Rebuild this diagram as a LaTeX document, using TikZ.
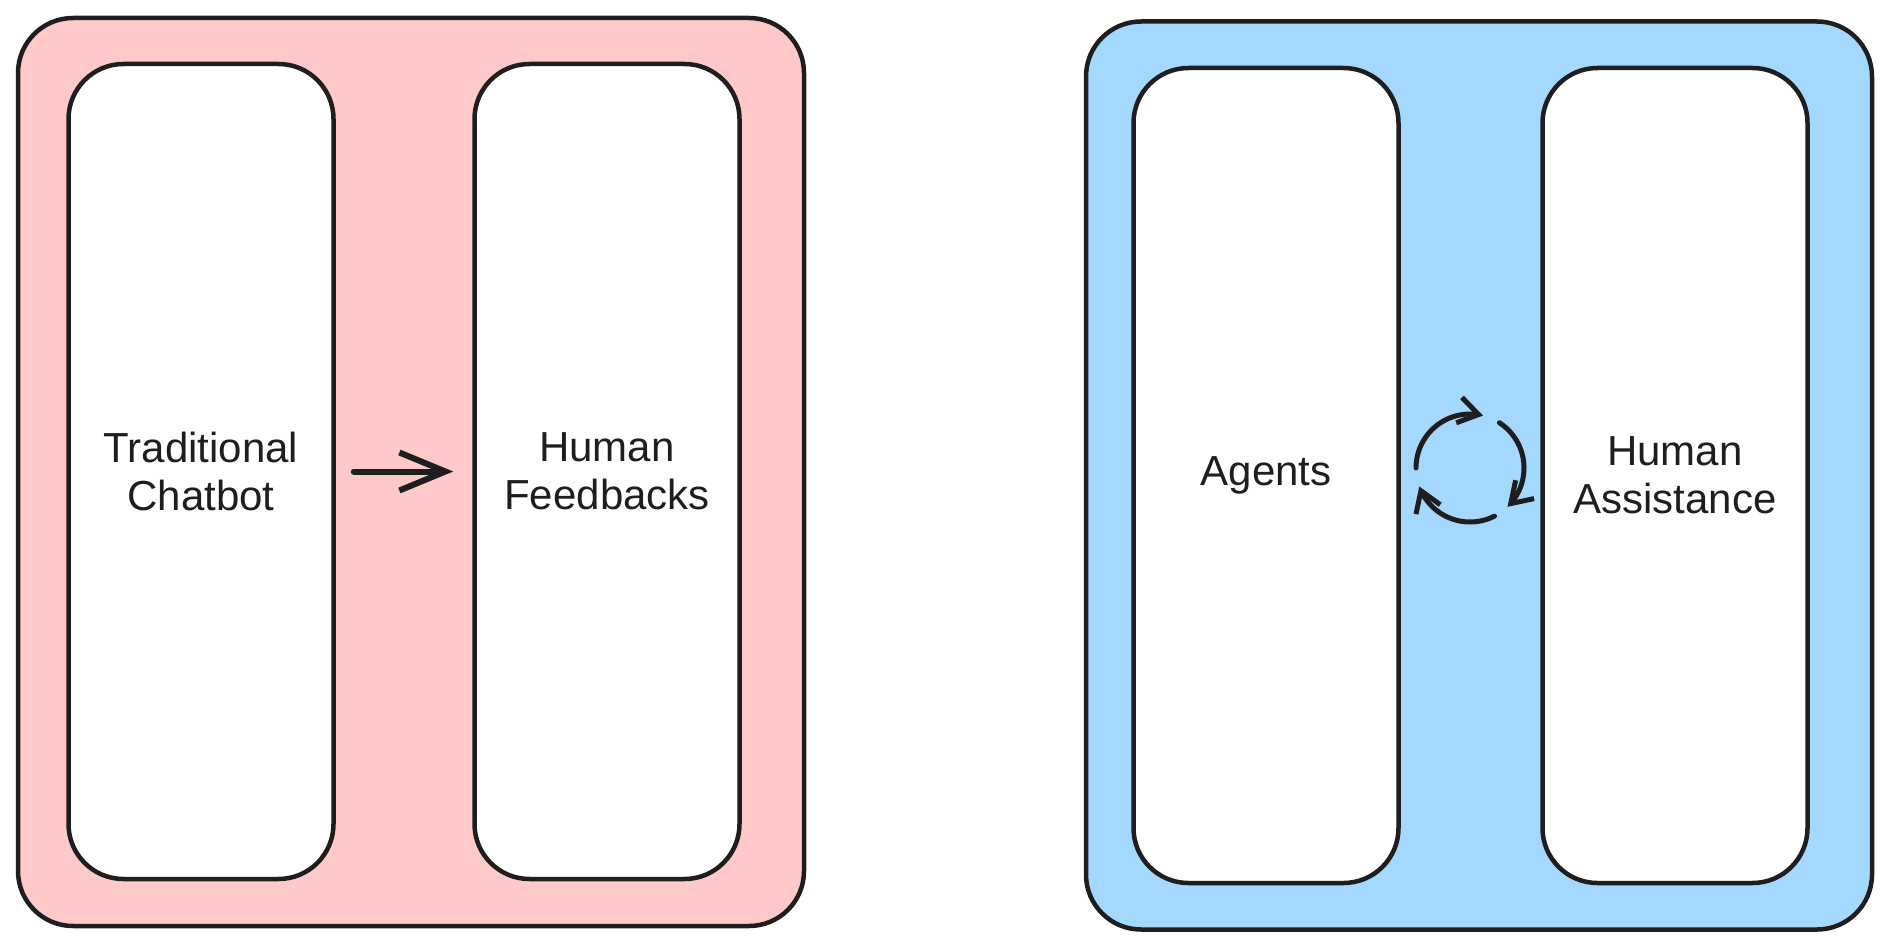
\documentclass[tikz,border=0pt]{standalone}
\usepackage{fontspec}
\setmainfont{Liberation Sans}
\usetikzlibrary{arrows.meta,bending}

\definecolor{ink}{HTML}{1E1E1E}
\definecolor{pinkbg}{HTML}{FFC9C9}
\definecolor{bluebg}{HTML}{A5D8FF}

\begin{document}
\begin{tikzpicture}[
    x=1pt, y=-1pt,
    frame/.style={draw=ink, line width=4.5pt, rounded corners=55pt, minimum width=786pt, minimum height=908pt, inner sep=0pt},
    panel/.style={draw=ink, fill=white, line width=4.5pt, rounded corners=55pt, minimum width=265pt, minimum height=815pt, inner sep=0pt, align=center, text=ink, font=\fontsize{42}{48}\selectfont},
    arr/.style={-{Straight Barb[length=46pt, width=38pt]}, draw=ink, line width=6pt, line cap=round},
    cyc/.style={-{Straight Barb[length=20pt, width=26pt, flex]}, draw=ink, line width=5pt, line cap=round}
]
\useasboundingbox (0,0) rectangle (1890,947);

% left side
\node[frame, fill=pinkbg] (frameL) at (411,472) {};
\node[panel] (chat) at (201,471.5) {Traditional\\Chatbot};
\node[panel] (feed) at (607,471.5) {Human\\Feedbacks};

% right side
\node[frame, fill=bluebg] (frameR) at (1479,475.5) {};
\node[panel] (agents) at (1266,475.5) {Agents};
\node[panel] (assist) at (1675,475.5) {Human\\Assistance};

\draw[arr, shorten <=18pt, shorten >=19pt] (chat.east) -- (feed.west);

% cycle between agents and human
\coordinate (cyc) at (1470,468);
\draw[cyc] ([shift={(-180:54)}]cyc) arc[start angle=-180, end angle=-76, radius=54];
\draw[cyc] ([shift={(-57:54)}]cyc) arc[start angle=-57, end angle=46, radius=54];
\draw[cyc] ([shift={(63:54)}]cyc) arc[start angle=63, end angle=160, radius=54];
\end{tikzpicture}
\end{document}
